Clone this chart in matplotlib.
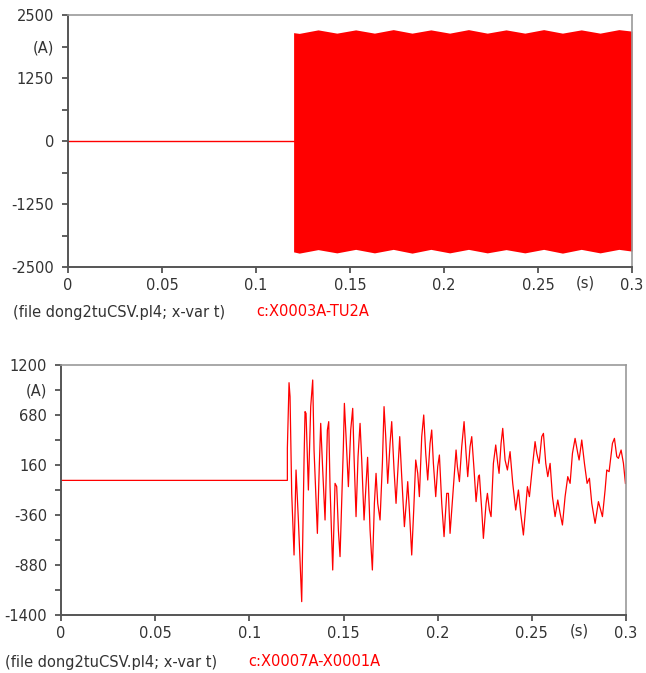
import matplotlib.pyplot as plt

plt.rcParams['font.family'] = ['DejaVu Sans']

# ---- top plot: c:X0003A-TU2A (dense oscillation, drawn as its envelope) ----
t_env = [0.1200, 0.1230, 0.1330, 0.1430, 0.1530, 0.1630, 0.1730, 0.1830, 0.1930, 0.2030,
         0.2130, 0.2230, 0.2330, 0.2430, 0.2530, 0.2630, 0.2730, 0.2830, 0.2930, 0.3000]
i_upper = [2150, 2135, 2205, 2140, 2205, 2140, 2210, 2140, 2205, 2140,
           2210, 2140, 2205, 2140, 2210, 2140, 2205, 2140, 2210, 2180]
i_lower = [-2200, -2225, -2155, -2220, -2150, -2220, -2150, -2225, -2150, -2220,
           -2150, -2220, -2155, -2220, -2150, -2225, -2150, -2220, -2150, -2185]
t_flat_top = [0.0, 0.12]
i_flat_top = [0, 0]

# ---- bottom plot: c:X0007A-X0001A ----
t_bot = [0.0, 0.12019, 0.12019, 0.12108, 0.12161, 0.12250, 0.12374, 0.12480, 0.12604, 0.12781,
         0.12905, 0.12958, 0.13011, 0.13135, 0.13259, 0.13365, 0.13436, 0.13613, 0.13719, 0.13790,
         0.13896, 0.14020, 0.14144, 0.14215, 0.14285, 0.14427, 0.14551, 0.14639, 0.14728, 0.14816,
         0.14993, 0.15047, 0.15135, 0.15259, 0.15383, 0.15489, 0.15560, 0.15666, 0.15772, 0.15879,
         0.15967, 0.16091, 0.16280, 0.16410, 0.16533, 0.16640, 0.16728, 0.16817, 0.16941, 0.17065,
         0.17153, 0.17242, 0.17348, 0.17472, 0.17560, 0.17684, 0.17790, 0.17914, 0.17985, 0.18091,
         0.18233, 0.18357, 0.18410, 0.18498, 0.18622, 0.18729, 0.18835, 0.18941, 0.19029, 0.19153,
         0.19260, 0.19366, 0.19472, 0.19596, 0.19684, 0.19773, 0.19897, 0.20003, 0.20092, 0.20216,
         0.20339, 0.20481, 0.20570, 0.20658, 0.20835, 0.20977, 0.21047, 0.21154, 0.21278, 0.21402,
         0.21508, 0.21596, 0.21720, 0.21809, 0.21933, 0.22039, 0.22163, 0.22216, 0.22340, 0.22428,
         0.22570, 0.22641, 0.22747, 0.22835, 0.22959, 0.23083, 0.23189, 0.23260, 0.23366, 0.23455,
         0.23579, 0.23703, 0.23844, 0.23986, 0.24145, 0.24287, 0.24411, 0.24552, 0.24694, 0.24765,
         0.24871, 0.24995, 0.25172, 0.25262, 0.25385, 0.25527, 0.25616, 0.25740, 0.25846, 0.25970,
         0.26094, 0.26235, 0.26377, 0.26501, 0.26625, 0.26766, 0.26908, 0.27032, 0.27156, 0.27297,
         0.27439, 0.27510, 0.27651, 0.27793, 0.27935, 0.28058, 0.28182, 0.28359, 0.28536, 0.28749,
         0.28890, 0.28979, 0.29103, 0.29280, 0.29386, 0.29510, 0.29599, 0.29740, 0.29864, 0.29970]
i_bot = [0, 0, 333, 1016, 871, -135, -776, 108, -412, -1261,
         212, 715, 697, -100, 767, 1044, 316, -551, 177, 593,
         108, -412, 524, 611, -65, -932, -31, -65, -516, -793,
         351, 801, 455, -65, 524, 749, 247, -377, 247, 593,
         212, -412, 240, -516, -932, -239, 73, -239, -412, 177,
         767, 455, -31, 385, 611, 108, -239, 212, 455, 39,
         -481, -169, -13, -308, -776, -308, 212, 73, -169, 455,
         680, 281, 4, 385, 524, 177, -169, 143, 264, -239,
         -585, -135, -135, -551, -65, 316, 143, -13, 351, 611,
         281, 39, 351, 455, 108, -221, 39, 56, -308, -603,
         -239, -135, -308, -377, 177, 368, 177, 73, 385, 541,
         212, 108, 299, -31, -308, -100, -343, -568, -239, -65,
         -169, 73, 403, 281, 177, 455, 489, 177, 39, 177,
         -169, -377, -204, -343, -464, -169, 39, -31, 281, 437,
         281, 212, 420, 177, -31, 22, -239, -447, -221, -377,
         -100, 108, 91, 385, 437, 247, 229, 316, 177, -31]

x_ticks = [0, 0.05, 0.1, 0.15, 0.2, 0.25, 0.3]
x_ticklabels = ['0', '0.05', '0.1', '0.15', '0.2', '0.25', '0.3']
top_yticks = [2500, 1875, 1250, 625, 0, -625, -1250, -1875, -2500]
top_yticklabels = ['2500', '(A)', '1250', '', '0', '', '-1250', '', '-2500']
bot_yticks = [1200, 940, 680, 420, 160, -100, -360, -620, -880, -1140, -1400]
bot_yticklabels = ['1200', '(A)', '680', '', '160', '', '-360', '', '-880', '', '-1400']

RED = '#ff0000'
TXT = '#333333'
FS = 10.5


def style_axes(ax, yticks, yticklabels, ylim):
    ax.set_xlim(0, 0.3)
    ax.set_ylim(*ylim)
    ax.set_xticks(x_ticks)
    ax.set_xticklabels(x_ticklabels)
    ax.set_yticks(yticks)
    ax.set_yticklabels(yticklabels)
    ax.tick_params(axis='both', direction='out', length=4, width=1.2, colors='#444444',
                   labelcolor=TXT, labelsize=FS)
    ax.tick_params(axis='x', pad=4)
    ax.tick_params(axis='y', pad=6)
    for s in ['left', 'bottom']:
        ax.spines[s].set_color('#555555')
        ax.spines[s].set_linewidth(1.4)
    for s in ['top', 'right']:
        ax.spines[s].set_color('#999999')
        ax.spines[s].set_linewidth(1.2)
    # "(s)" unit label sits between the last two tick labels
    ax.text(0.275, -0.035, '(s)', transform=ax.get_xaxis_transform(), ha='center', va='top',
            fontsize=FS, color=TXT)


fig = plt.figure(figsize=(6.46, 6.73), dpi=100)

ax1 = fig.add_axes([68 / 646, 1 - 267 / 673, 564 / 646, 252 / 673])
ax1.plot(t_flat_top, i_flat_top, color=RED, lw=1.0)
ax1.fill_between(t_env, i_lower, i_upper, color=RED, lw=0)
style_axes(ax1, top_yticks, top_yticklabels, (-2500, 2500))

ax2 = fig.add_axes([61 / 646, 1 - 615 / 673, 565 / 646, 250 / 673])
ax2.plot(t_bot, i_bot, color=RED, lw=0.9)
style_axes(ax2, bot_yticks, bot_yticklabels, (-1400, 1200))

fig.text(13 / 646, 1 - 312 / 673, '(file dong2tuCSV.pl4; x-var t)', fontsize=FS, color=TXT, va='center')
fig.text(256 / 646, 1 - 312 / 673, 'c:X0003A-TU2A', fontsize=FS, color=RED, va='center')
fig.text(5 / 646, 1 - 662 / 673, '(file dong2tuCSV.pl4; x-var t)', fontsize=FS, color=TXT, va='center')
fig.text(248 / 646, 1 - 662 / 673, 'c:X0007A-X0001A', fontsize=FS, color=RED, va='center')

fig.savefig('out.png', dpi=100)
